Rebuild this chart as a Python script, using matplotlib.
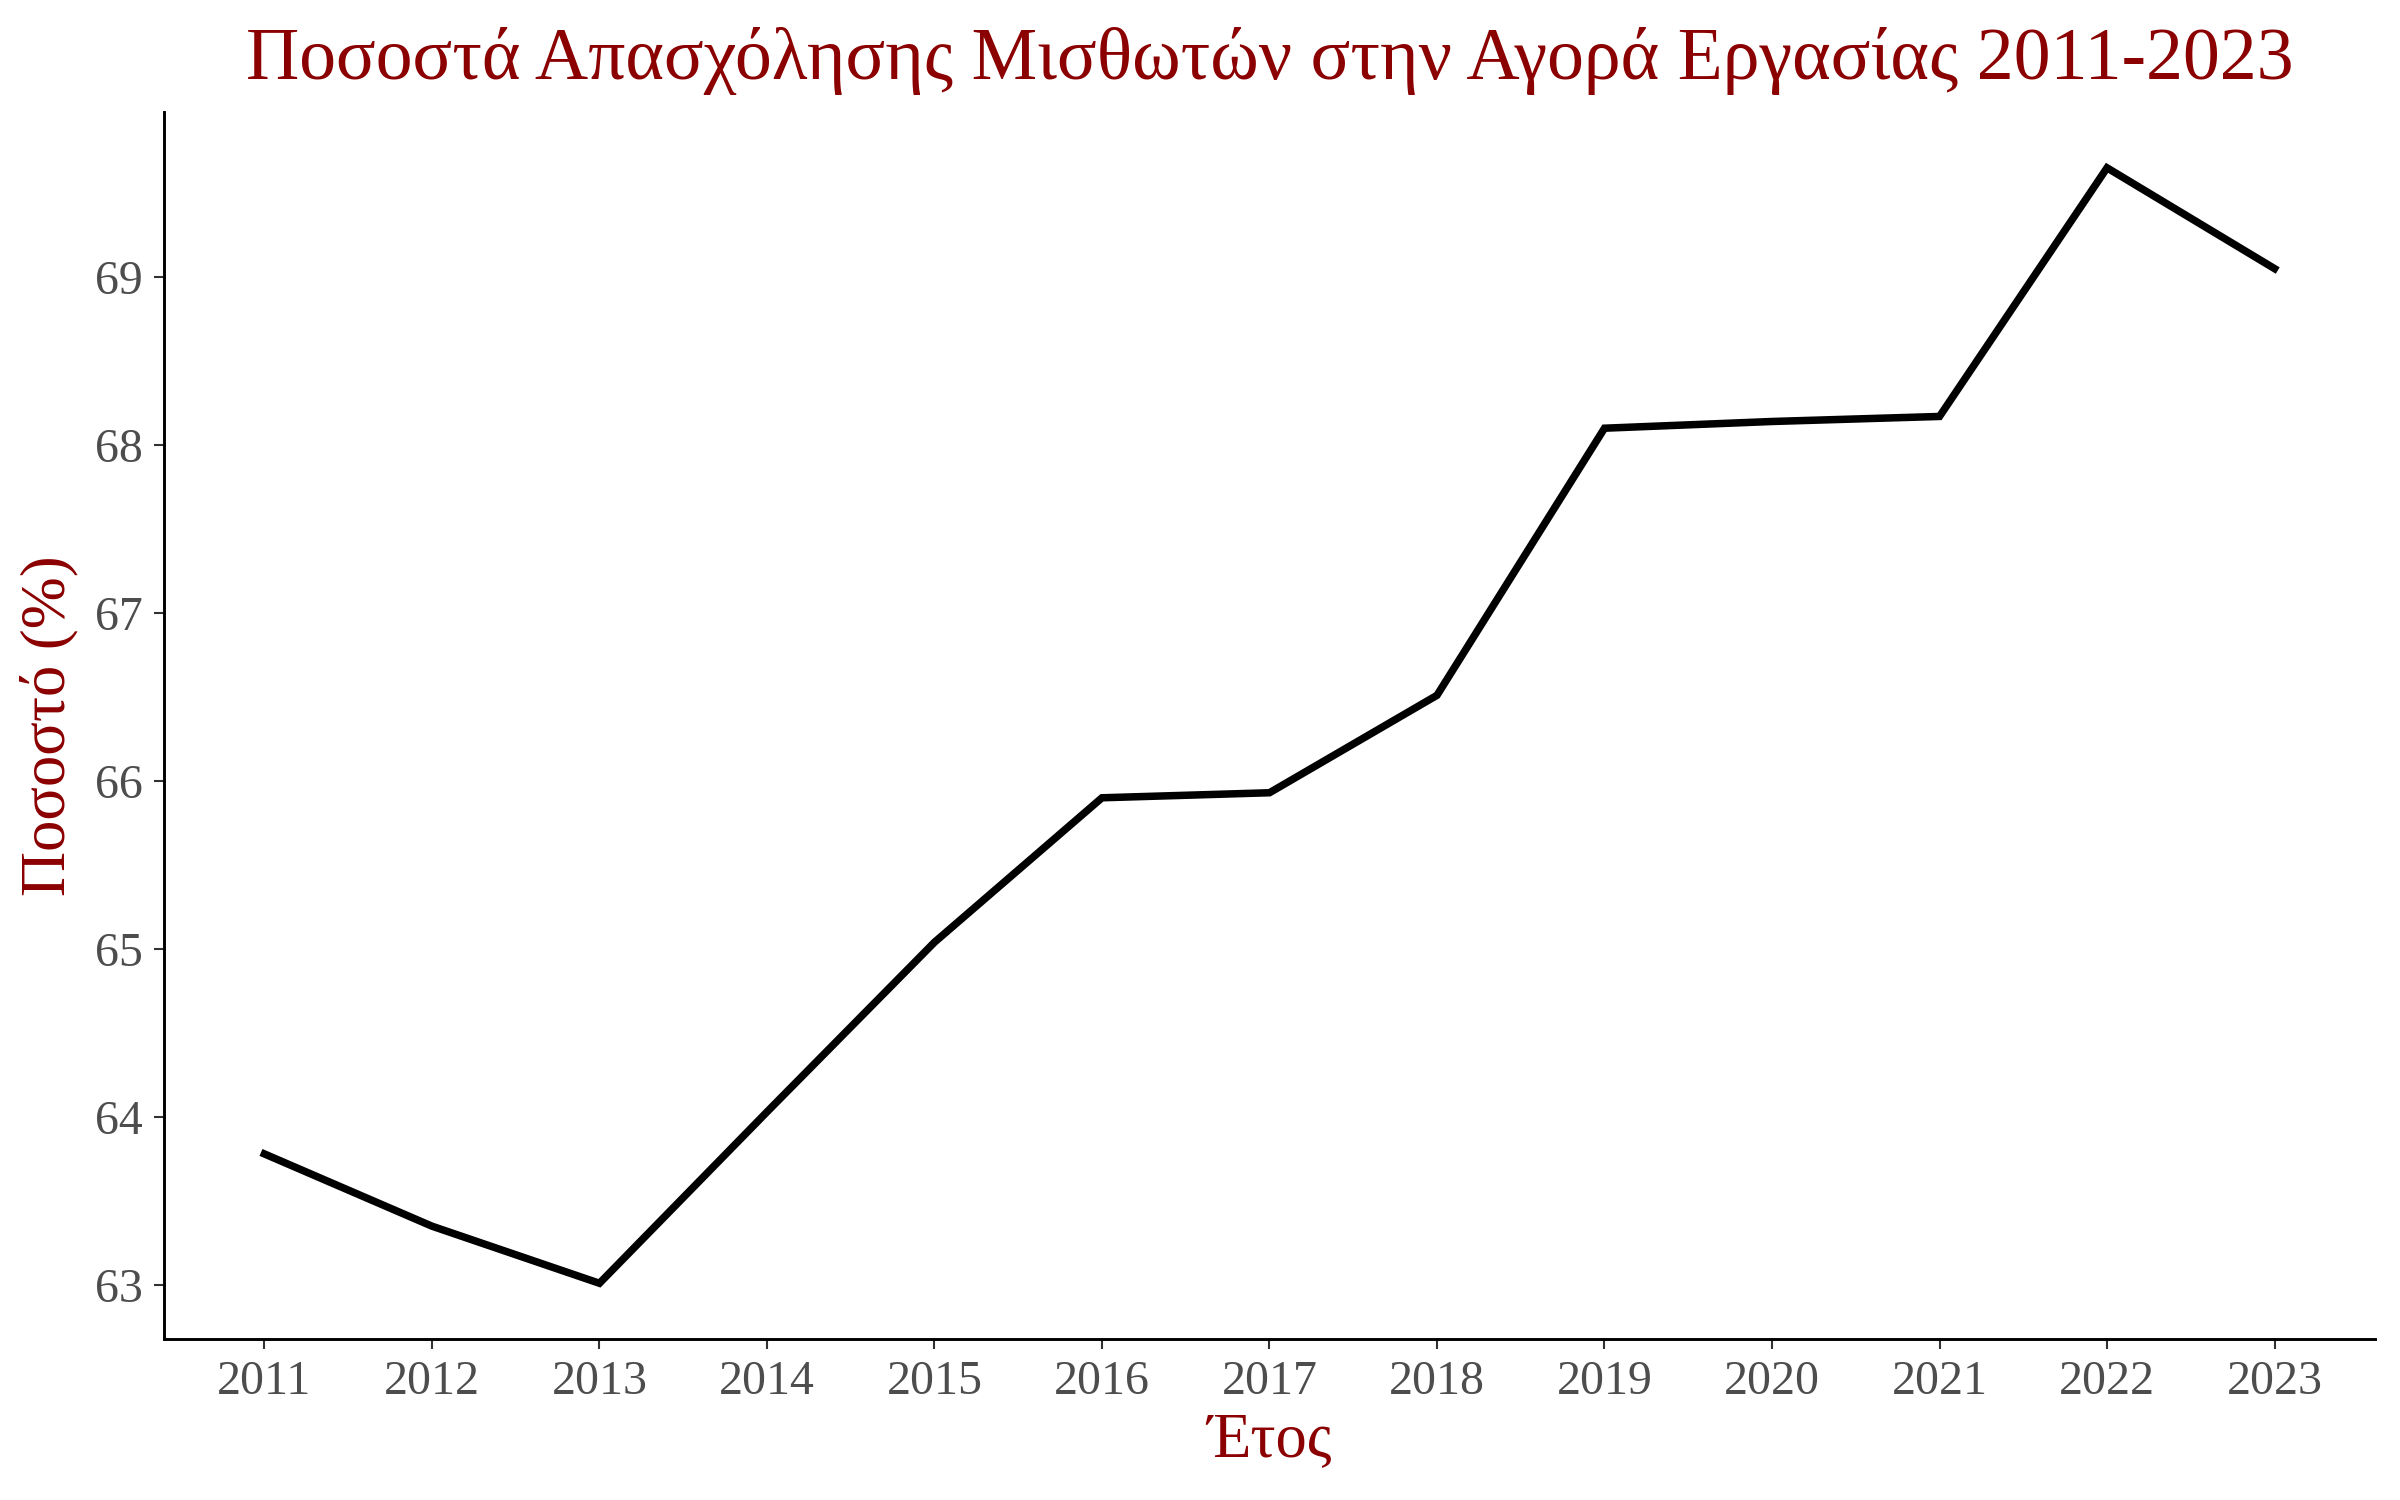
import matplotlib
matplotlib.use("Agg")
import matplotlib.pyplot as plt

# ── Data ────────────────────────────────────────────────────────────────────────
years = [2011, 2012, 2013, 2014, 2015, 2016, 2017, 2018, 2019, 2020, 2021, 2022, 2023]
rate = [63.78, 63.35, 63.01, 64.03, 65.04, 65.90, 65.93, 66.51, 68.10, 68.14, 68.17, 69.65, 69.05]
yticks = [63, 64, 65, 66, 67, 68, 69]

title = "Ποσοστά Απασχόλησης Μισθωτών στην Αγορά Εργασίας 2011-2023"
xlabel = "Έτος"
ylabel = "Ποσοστό (%)"

red = "#8B0000"
plt.rcParams["font.family"] = ["Liberation Serif", "DejaVu Serif"]

# ── Figure ──────────────────────────────────────────────────────────────────────
fig = plt.figure(figsize=(8, 5), dpi=300)
ax = fig.add_axes([0.0683, 0.1073, 0.9213, 0.818])

ax.plot(years, rate, color="black", lw=1.8, solid_joinstyle="miter")
ax.margins(x=0.05, y=0.05)

ax.set_xticks(years)
ax.set_yticks(yticks)
ax.tick_params(colors="#333333", labelcolor="#4D4D4D", labelsize=11.5,
               length=2.5, width=0.5)
ax.tick_params(axis="x", pad=2.5)
ax.tick_params(axis="y", pad=2.5)

for s in ["top", "right"]:
    ax.spines[s].set_visible(False)
for s in ["left", "bottom"]:
    ax.spines[s].set_linewidth(0.7)
    ax.spines[s].set_color("black")

ax.set_title(title, color=red, fontsize=17.7, pad=8)
ax.set_xlabel(xlabel, color=red, fontsize=15, labelpad=2)
ax.set_ylabel(ylabel, color=red, fontsize=15, labelpad=4)

fig.savefig("out.png", dpi=300, facecolor="white")
